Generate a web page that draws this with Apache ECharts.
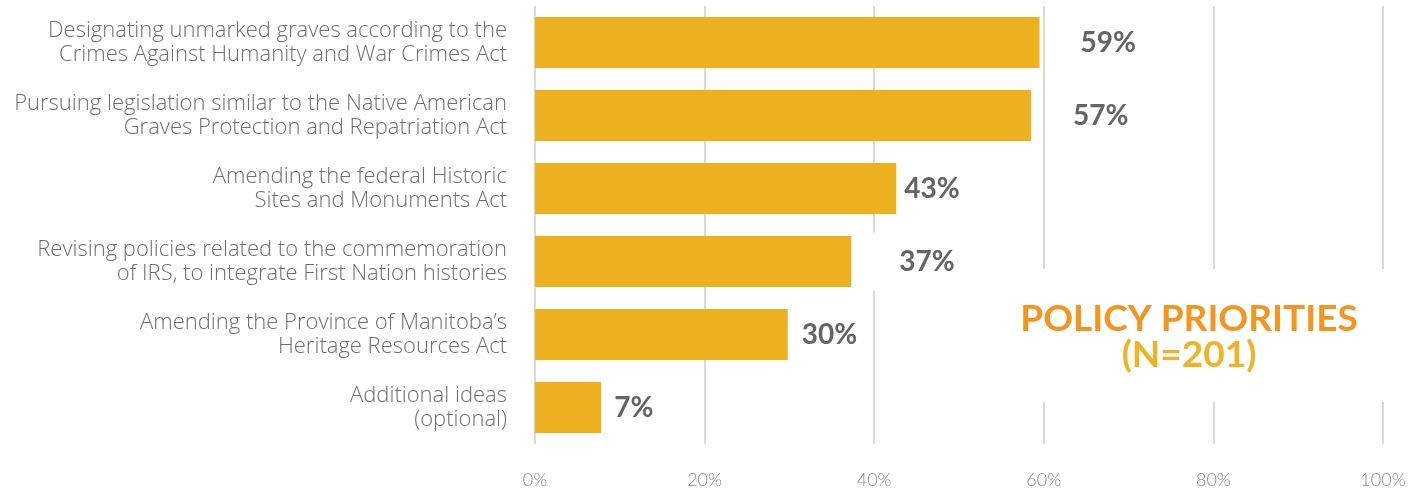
<!DOCTYPE html>
<html>
<head>
<meta charset="utf-8">
<script src="https://cdn.jsdelivr.net/npm/echarts@6/dist/echarts.min.js"></script>
<style>
html,body{margin:0;padding:0;background:#fff;}
#chart{width:1426px;height:491px;}
</style>
</head>
<body>
<div id="chart"></div>
<script>
const categories = [
  "Designating unmarked graves according to the\nCrimes Against Humanity and War Crimes Act",
  "Pursuing legislation similar to the Native American\nGraves Protection and Repatriation Act",
  "Amending the federal Historic\nSites and Monuments Act",
  "Revising policies related to the commemoration\nof IRS, to integrate First Nation histories",
  "Amending the Province of Manitoba\u2019s\nHeritage Resources Act",
  "Additional ideas\n(optional)"
];
// bar lengths as drawn (percent)
const values = [59.5, 58.5, 42.6, 37.3, 29.8, 7.8];
// printed labels
const valueLabels = ["59%", "57%", "43%", "37%", "30%", "7%"];
const xTicks = [0, 20, 40, 60, 80, 100];
const titleLine1 = "POLICY PRIORITIES";
const titleLine2 = "(N=201)";

// label placement styling (per bar, as hand-placed in the original)
const labelDist = [41, 42, 8, 18, 14, 13];
const labelBg = [null, null, null, {padLeft: 30}, null, null];

const chart = echarts.init(document.getElementById('chart'));
const FONT = 'Lato, "Open Sans", sans-serif';
const CAT_FONT = '"Open Sans", Lato, sans-serif';

const seriesData = values.map((v, i) => {
  const lbl = {
    distance: labelDist[i],
    formatter: valueLabels[i]
  };
  if (labelBg[i]) {
    lbl.backgroundColor = '#ffffff';
    lbl.padding = [15, 12, 15, labelBg[i].padLeft];
  }
  return { value: v, label: lbl };
});

chart.setOption({
  animation: false,
  backgroundColor: '#ffffff',
  grid: { left: 535, right: 43, top: 6, bottom: 47, containLabel: false },
  xAxis: {
    type: 'value', min: 0, max: 100, interval: 20,
    axisLine: { show: false }, axisTick: { show: false },
    splitLine: { show: true, lineStyle: { color: '#d9d9d9', width: 2 } },
    axisLabel: {
      formatter: v => xTicks.includes(v) ? v + '%' : '',
      color: '#8a8a8a', fontFamily: FONT, fontWeight: 300, fontSize: 18, margin: 27
    }
  },
  yAxis: {
    type: 'category', data: categories, inverse: true,
    axisLine: { show: false }, axisTick: { show: false },
    axisLabel: {
      color: '#6d6e71', fontFamily: CAT_FONT, fontWeight: 300, fontSize: 22,
      lineHeight: 24, margin: 28, align: 'right'
    }
  },
  series: [{
    type: 'bar',
    data: seriesData,
    barCategoryGap: '30%',
    itemStyle: { color: '#EDB01F' },
    label: {
      show: true, position: 'right',
      color: '#636466', fontFamily: FONT, fontWeight: 'bold', fontSize: 28
    },
    z: 3
  }],
  graphic: [
    { type: 'rect', z: 50, shape: { x: 1000, y: 269, width: 426, height: 133 }, style: { fill: '#ffffff' } },
    { type: 'text', z: 51, x: 1189, y: 319,
      style: { text: titleLine1, textAlign: 'center', textVerticalAlign: 'middle',
               font: 'bold 37px ' + FONT, fill: '#F7941D' } },
    { type: 'text', z: 51, x: 1189, y: 355,
      style: { text: titleLine2, textAlign: 'center', textVerticalAlign: 'middle',
               font: 'bold 37px ' + FONT, fill: '#F0B323' } }
  ]
});
</script>
</body>
</html>
